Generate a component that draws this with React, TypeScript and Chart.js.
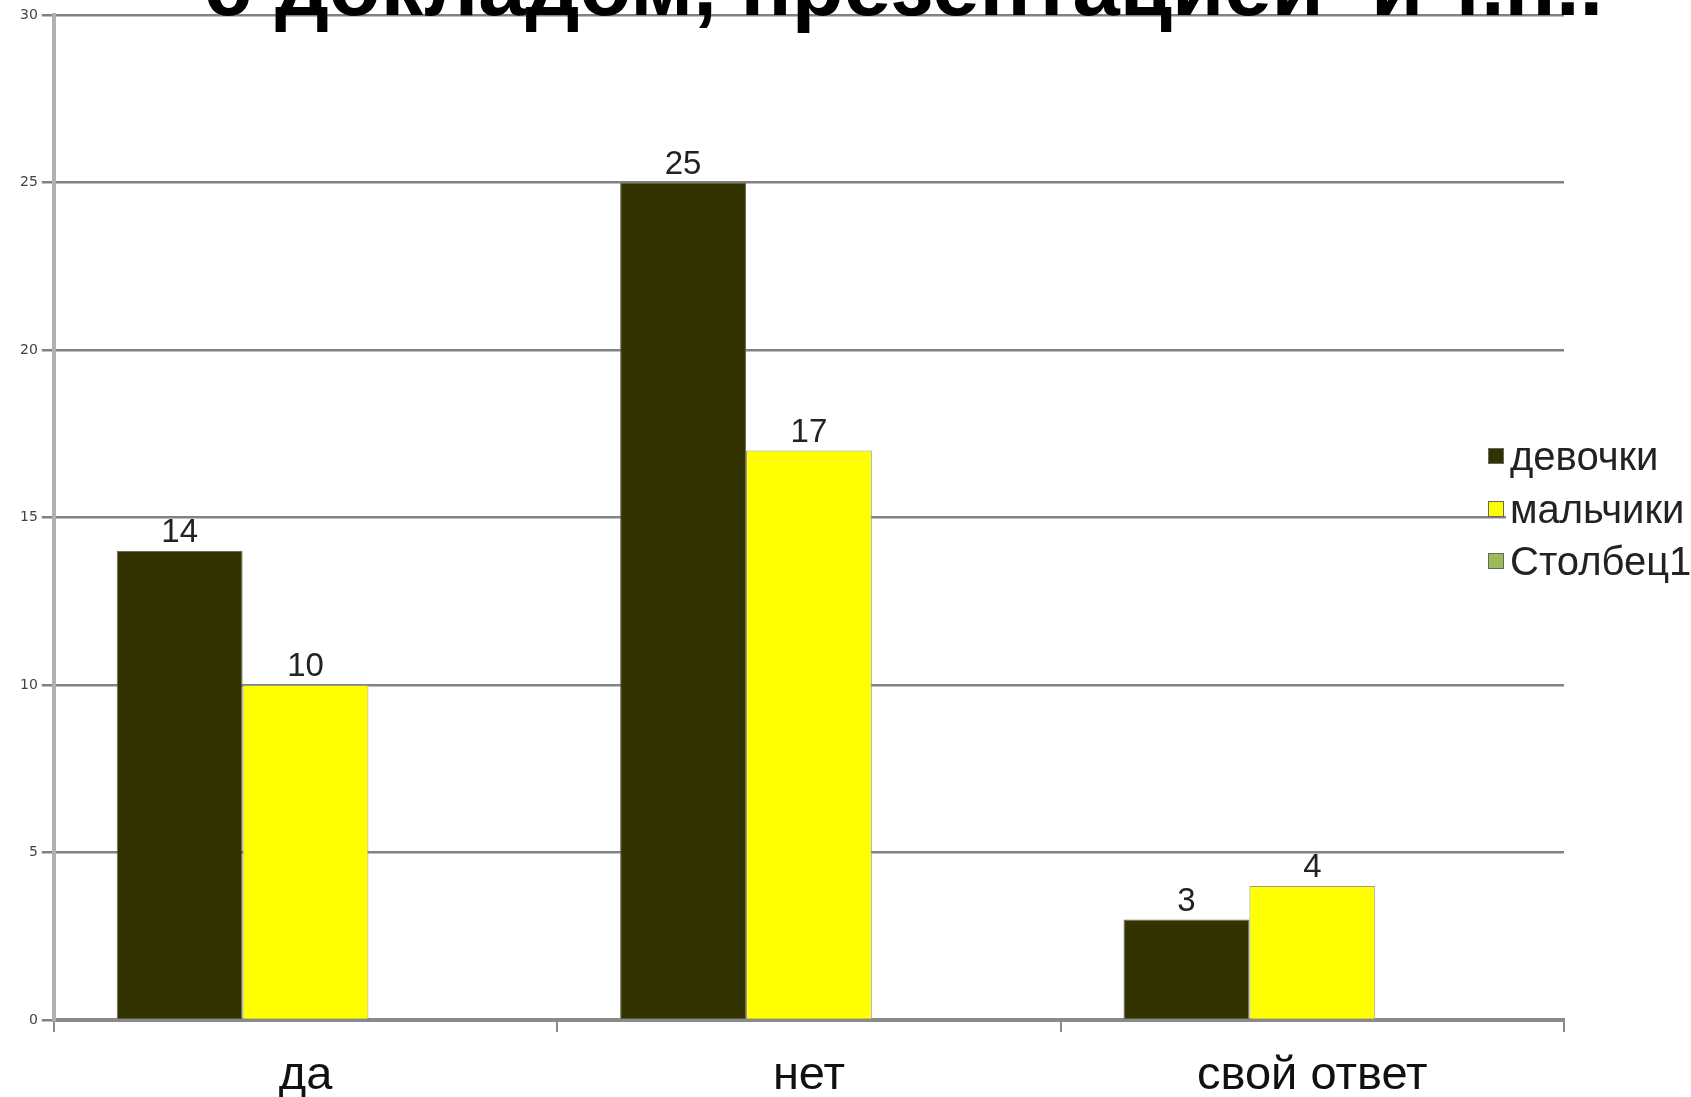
import React, { useEffect, useRef } from "react";
import { Chart, registerables } from "chart.js";

Chart.register(...registerables);

const titleText = "с докладом, презентацией  и т.п..";
const categories = ["да", "нет", "свой ответ"];
const seriesNames = ["девочки", "мальчики", "Столбец1"];
const girls = [14, 25, 3];
const boys = [10, 17, 4];
const column1: (number | null)[] = [null, null, null];
const seriesColors = ["#333300", "#FFFF00", "#9BBB59"];
const yTicks = [0, 5, 10, 15, 20, 25, 30];

const W = 1691;
const H = 1097;

export default function App() {
  const ref = useRef<HTMLCanvasElement | null>(null);

  useEffect(() => {
    const canvas = ref.current;
    if (!canvas) return;

    const labelsPlugin = {
      id: "valueLabels",
      afterDatasetsDraw(chart: any) {
        const ctx = chart.ctx;
        ctx.save();
        ctx.font = "33px 'Liberation Sans', Arial, sans-serif";
        ctx.fillStyle = "#222";
        ctx.textAlign = "center";
        ctx.textBaseline = "alphabetic";
        chart.data.datasets.forEach((ds: any, i: number) => {
          const meta = chart.getDatasetMeta(i);
          meta.data.forEach((bar: any, j: number) => {
            const v = ds.data[j];
            if (v === null || v === undefined) return;
            ctx.fillText(String(v), bar.x, bar.y - 9);
          });
        });
        ctx.restore();
      },
    };

    const overlayPlugin = {
      id: "overlay",
      afterDraw(chart: any) {
        const ctx = chart.ctx;
        ctx.save();
        // legend
        const sqX = 1488;
        const textX = 1510;
        const baselines = [470, 523, 575];
        ctx.fillStyle = "#ffffff";
        ctx.fillRect(1506, 440, W - 1506, 150);
        ctx.font = "40px 'Liberation Sans', Arial, sans-serif";
        ctx.textAlign = "left";
        ctx.textBaseline = "alphabetic";
        chart.data.datasets.forEach((ds: any, i: number) => {
          const b = baselines[i];
          ctx.fillStyle = ds.backgroundColor;
          ctx.fillRect(sqX, b - 22, 16, 16);
          ctx.strokeStyle = "#666";
          ctx.lineWidth = 1;
          ctx.strokeRect(sqX + 0.5, b - 22 + 0.5, 15, 15);
          ctx.fillStyle = "#222";
          ctx.fillText(ds.label, textX, b);
        });
        // title
        ctx.fillStyle = "#000";
        ctx.font = "bold 85px 'Liberation Sans', Arial, sans-serif";
        ctx.textAlign = "left";
        ctx.fillText(titleText, 204, 15);
        ctx.restore();
      },
    };

    const chart = new Chart(canvas, {
      type: "bar",
      data: {
        labels: categories,
        datasets: [
          {
            label: seriesNames[0],
            data: girls,
            backgroundColor: seriesColors[0],
            borderColor: "#6b6b50",
            borderWidth: 1,
          },
          {
            label: seriesNames[1],
            data: boys,
            backgroundColor: seriesColors[1],
            borderColor: "#9a9a9a",
            borderWidth: 1,
          },
          {
            label: seriesNames[2],
            data: column1,
            backgroundColor: seriesColors[2],
            borderColor: "#777",
            borderWidth: 1,
          },
        ],
      },
      options: {
        animation: false,
        responsive: false,
        devicePixelRatio: 1,
        layout: { padding: { left: 16, right: 127, top: 15, bottom: 0 } },
        datasets: { bar: { categoryPercentage: 0.75, barPercentage: 1 } },
        plugins: {
          legend: { display: false },
          tooltip: { enabled: false },
          title: { display: false },
        },
        scales: {
          x: {
            offset: true,
            afterFit(scale: any) {
              scale.height = H - 1020;
            },
            grid: {
              offset: true,
              drawOnChartArea: false,
              drawTicks: true,
              tickLength: 12,
              color: "#888",
              lineWidth: 2,
            },
            border: { color: "#8a8a8a", width: 4 },
            ticks: {
              color: "#111",
              padding: 16,
              font: { family: "'Liberation Sans', Arial, sans-serif", size: 47 },
            },
          },
          y: {
            min: 0,
            max: 30,
            afterBuildTicks(scale: any) {
              scale.ticks = yTicks.map((v) => ({ value: v }));
            },
            grid: {
              color: "#828282",
              lineWidth: 2.5,
              tickLength: 12,
            },
            border: { color: "#b0b0b0", width: 4 },
            ticks: {
              color: "#444",
              padding: 4,
              font: { family: "'DejaVu Sans', sans-serif", size: 14 },
            },
          },
        },
      },
      plugins: [labelsPlugin, overlayPlugin],
    });

    return () => chart.destroy();
  }, []);

  return (
    <div
      style={{
        position: "fixed",
        left: 0,
        top: 0,
        width: W,
        height: H,
        background: "#fff",
        overflow: "hidden",
      }}
    >
      <canvas ref={ref} width={W} height={H} style={{ width: W, height: H, display: "block" }} />
    </div>
  );
}
